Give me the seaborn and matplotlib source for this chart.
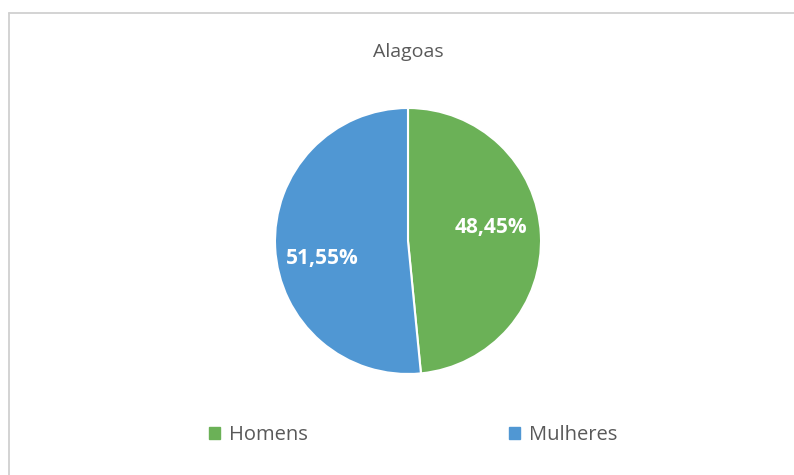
import matplotlib
matplotlib.use("Agg")
import matplotlib.pyplot as plt
import matplotlib.patches as mpatches
from matplotlib.lines import Line2D
import seaborn as sns

# data
categorias = ["Homens", "Mulheres"]
percentuais = [48.45, 51.55]
cores = ["#6BB157", "#5097D3"]
titulo = "Alagoas"

sns.set_theme(style="white")
plt.rcParams["font.family"] = ["Open Sans", "DejaVu Sans"]

W, H = 794, 475
fig = plt.figure(figsize=(W / 100, H / 100), dpi=100)

# chart-area frame: only top and left edges show in the reference
fy = 1 - 12.5 / H
fx = 8.5 / W
fig.add_artist(Line2D([fx, 1], [fy, fy], transform=fig.transFigure, color="#D0D0D0", lw=1.3))
fig.add_artist(Line2D([fx, fx], [0, fy], transform=fig.transFigure, color="#D0D0D0", lw=1.3))

cx, cy, r = 408, 241, 133
ax = fig.add_axes([(cx - r) / W, 1 - (cy + r) / H, 2 * r / W, 2 * r / H])

wedges, textos, autotextos = ax.pie(
    percentuais, colors=cores, startangle=90, counterclock=False,
    autopct=lambda p: f"{p:.2f}%".replace(".", ","), pctdistance=0.65,
    wedgeprops={"edgecolor": "white", "linewidth": 1.5}, radius=1)
# Excel "best fit" label placement
posicoes = [(0.625, 0.105), (-0.645, -0.135)]
for t, pos in zip(autotextos, posicoes):
    t.set_position(pos)
    t.set_color("white")
    t.set_fontsize(15)
    t.set_fontweight("bold")
ax.set_xlim(-1, 1)
ax.set_ylim(-1, 1)
ax.set_aspect("equal")

fig.text(cx / W, 1 - 52 / H, titulo, ha="center", va="center", fontsize=14, color="#595959")

handles = [mpatches.Patch(color=c, label=l) for c, l in zip(cores, categorias)]
leg = fig.legend(handles=handles, loc="center", bbox_to_anchor=(413 / W, 1 - 435 / H), ncol=2,
                 frameon=False, fontsize=14.5, handlelength=0.55, handleheight=0.55,
                 handletextpad=0.45, columnspacing=10)
for t in leg.get_texts():
    t.set_color("#595959")

fig.savefig("out.png", dpi=100)
